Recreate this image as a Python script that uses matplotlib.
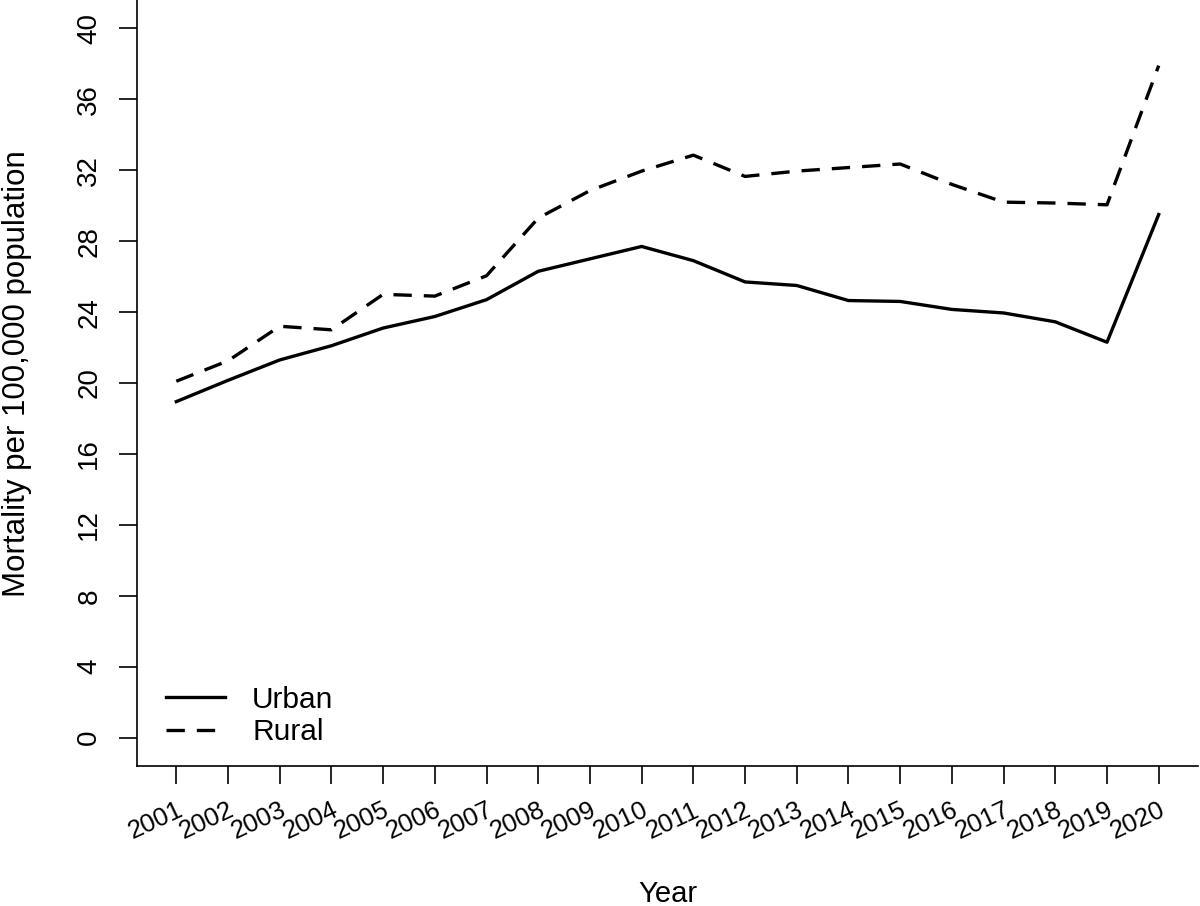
import matplotlib.pyplot as plt
import numpy as np

# values
years = list(range(2001, 2021))
urban = [18.95, 20.15, 21.3, 22.1, 23.1, 23.75, 24.7, 26.3, 27.0, 27.7,
         26.9, 25.7, 25.5, 24.65, 24.6, 24.15, 23.95, 23.45, 22.3, 29.5]
rural = [20.1, 21.25, 23.2, 23.0, 25.0, 24.9, 26.05, 29.3, 30.85, 31.95,
         32.85, 31.65, 31.95, 32.15, 32.35, 31.2, 30.2, 30.15, 30.05, 37.9]
y_ticks = [0, 4, 8, 12, 16, 20, 24, 28, 32, 36, 40]

plt.rcParams['font.family'] = ['Liberation Sans', 'DejaVu Sans']

fig = plt.figure(figsize=(12, 9.06), dpi=100)
ax = fig.add_axes([137/1200, 1 - 766/906, 1061/1200, 766/906])

ax.plot(years, urban, color='black', lw=2.4, label='Urban')
ax.plot(years, rural, color='black', lw=2.4, dashes=(5.5, 3.6), label='Rural')

# R-style axis extension (4%)
ax.set_xlim(2001 - 0.04 * 19, 2020 + 0.04 * 19)
ax.set_ylim(-1.6, 41.6)

for side in ['top', 'right']:
    ax.spines[side].set_visible(False)
for side in ['left', 'bottom']:
    ax.spines[side].set_linewidth(1.2)

ax.set_xticks(years)
ax.set_xticklabels([str(y) for y in years], rotation=25, ha='right',
                   va='top', rotation_mode='anchor')
ax.set_yticks(y_ticks)
ax.set_yticklabels([str(v) for v in y_ticks], rotation=90, va='center')
ax.tick_params(axis='x', length=13, width=1.2, pad=10, labelsize=18.5)
ax.tick_params(axis='y', length=13, width=1.2, pad=12, labelsize=20)

ax.set_xlabel('Year', fontsize=21)
ax.xaxis.set_label_coords(0.5, -0.149)
ax.set_ylabel('Mortality per 100,000 population', fontsize=22.5)
ax.yaxis.set_label_coords(-0.099, 0.512)

ax.legend(loc='lower left', bbox_to_anchor=(0.027, 0.026), frameon=False,
          fontsize=21.5, handlelength=2.0, handletextpad=0.9,
          labelspacing=0.15, borderpad=0, borderaxespad=0)

plt.savefig('out.png', dpi=100)
